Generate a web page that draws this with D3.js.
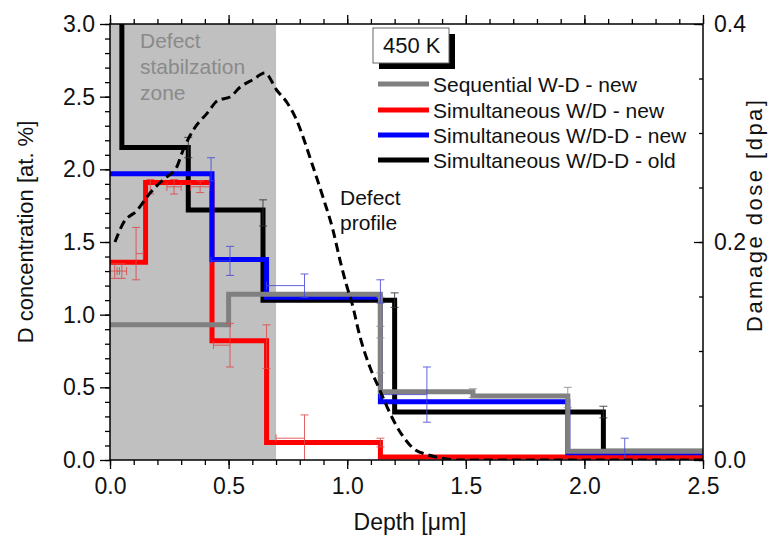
<!DOCTYPE html>
<html><head><meta charset="utf-8">
<script src="https://cdn.jsdelivr.net/npm/d3@7"></script>
<style>body{margin:0;background:#fff} svg text{font-family:"Liberation Sans",Arial,sans-serif}</style>
</head><body><svg id="c" width="770" height="538"></svg>
<script>
// ---- data ----
const seriesNames = ["Sequential W-D - new","Simultaneous W/D - new","Simultaneous W/D-D - new","Simultaneous W/D-D - old"];
const seriesColors = ["#808080","#ff0000","#0000ff","#000000"];
const errColors = ["#8c8c8c","#e04848","#4a4ad8","#303030"];
// step profiles: depth edges [µm] and D concentration [at.%] per layer
const grayEdges  = [0, 0.5, 1.14, 1.53, 1.93, 2.5];
const grayValues = [0.93, 1.14, 0.47, 0.44, 0.06];
const redEdges   = [0, 0.15, 0.43, 0.66, 1.14, 2.5];
const redValues  = [1.36, 1.91, 0.82, 0.12, 0.02];
const blueEdges  = [0, 0.43, 0.66, 1.14, 1.93, 2.5];
const blueValues = [1.97, 1.38, 1.12, 0.40, 0.05];
const blackEdges = [0, 0.05, 0.33, 0.645, 1.2, 2.08, 2.5];
const blackValues= [3.6, 2.15, 1.72, 1.10, 0.33, 0.06];
// error bars: [depth, conc, xErrLeft, xErrRight, yErr]
const grayErr  = [[1.14,1.02,0,0,0.10],[1.14,0.72,0,0,0.12],[1.53,0.46,0,0,0.03],[1.93,0.43,0,0,0.07]];
const redErr   = [[0.02,1.30,0.02,0.02,0.05],[0.05,1.30,0.02,0.02,0.05],[0.11,1.42,0,0.03,0.18],
                  [0.17,1.88,0,0,0.05],[0.27,1.88,0.03,0.03,0.05],[0.38,1.88,0.04,0.04,0.04],
                  [0.506,0.79,0.07,0,0.15],[0.66,0.78,0,0,0.15],[0.82,0.15,0.12,0,0.16],[1.14,0.12,0,0,0.03]];
const blueErr  = [[0.426,2.0,0,0,0.08],[0.506,1.37,0.08,0,0.10],[0.82,1.20,0.16,0,0.08],
                  [1.14,1.16,0,0,0.08],[1.336,0.45,0.2,0,0.19],[2.17,0.07,0,0,0.08]];
const blackErr = [[0.33,2.15,0,0,0.07],[0.645,1.70,0,0,0.09],[1.2,1.10,0,0,0.05],[2.08,0.33,0,0,0.04]];
// defect (damage) profile, right axis [dpa]
const defectDepth = [0.021,0.055,0.114,0.169,0.223,0.282,0.304,0.358,0.409,0.455,0.506,0.548,0.603,0.653,
  0.704,0.746,0.780,0.856,0.898,0.940,0.970,0.999,1.020,1.054,1.096,1.138,1.180,1.231,1.277,1.336,1.391,1.476,2.5];
const defectDpa = [0.200,0.217,0.229,0.245,0.257,0.269,0.282,0.305,0.318,0.330,0.333,0.342,0.349,0.355,
  0.339,0.328,0.315,0.269,0.241,0.211,0.183,0.159,0.144,0.113,0.085,0.064,0.043,0.023,0.011,0.005,0.002,0,0];
const zoneEnd = 0.7;
const depthTicks = [0,0.5,1.0,1.5,2.0,2.5];
const concTicks = [0,0.5,1.0,1.5,2.0,2.5,3.0];
const dpaTicks = [0,0.2,0.4];

// ---- layout ----
const L=110, R=703, T=24, B=460;
const svg = d3.select("#c");
const x = d3.scaleLinear().domain([0,2.5]).range([L,R]);
const y = d3.scaleLinear().domain([0,3]).range([B,T]);
const y2 = d3.scaleLinear().domain([0,0.4]).range([B,T]);

svg.append("defs").append("clipPath").attr("id","clip")
  .append("rect").attr("x",L).attr("y",T).attr("width",R-L).attr("height",B-T);

// shaded zone
svg.append("rect").attr("x",x(0)).attr("y",T).attr("width",x(zoneEnd)-x(0)).attr("height",B-T).attr("fill","#c0c0c0");

const zoneTxt = svg.append("text").attr("x",140).attr("y",48).attr("fill","#8a8a8a").attr("font-size",21);
["Defect","stabilzation","zone"].forEach((t,i)=>zoneTxt.append("tspan").attr("x",140).attr("dy",i?26:0).text(t));

// steps
const stepLine = d3.line().x(d=>x(d[0])).y(d=>y(d[1])).curve(d3.curveStepAfter);
function pts(edges, vals){ return edges.map((e,i)=>[e, vals[Math.min(i, vals.length-1)]]); }
const plot = svg.append("g").attr("clip-path","url(#clip)");
const steps = [[blackEdges,blackValues,3],[redEdges,redValues,1],[blueEdges,blueValues,2],[grayEdges,grayValues,0]];
steps.forEach(([e,v,ci])=>{
  plot.append("path").attr("d",stepLine(pts(e,v))).attr("fill","none")
    .attr("stroke",seriesColors[ci]).attr("stroke-width",5).attr("stroke-linejoin","miter");
});

// error bars
function drawErr(list, color){
  const g = plot.append("g").attr("stroke",color).attr("stroke-width",1).attr("opacity",0.85);
  list.forEach(([dx,dy,xl,xr,ey])=>{
    const cx=x(dx), cy=y(dy);
    g.append("line").attr("x1",cx).attr("x2",cx).attr("y1",y(dy-ey)).attr("y2",y(dy+ey));
    g.append("line").attr("x1",cx-4).attr("x2",cx+4).attr("y1",y(dy-ey)).attr("y2",y(dy-ey));
    g.append("line").attr("x1",cx-4).attr("x2",cx+4).attr("y1",y(dy+ey)).attr("y2",y(dy+ey));
    if(xl>0||xr>0){
      g.append("line").attr("x1",x(dx-xl)).attr("x2",x(dx+xr)).attr("y1",cy).attr("y2",cy);
      if(xl>0) g.append("line").attr("x1",x(dx-xl)).attr("x2",x(dx-xl)).attr("y1",cy-4).attr("y2",cy+4);
      if(xr>0) g.append("line").attr("x1",x(dx+xr)).attr("x2",x(dx+xr)).attr("y1",cy-4).attr("y2",cy+4);
    }
  });
}
drawErr(blackErr, errColors[3]);
drawErr(grayErr, errColors[0]);
drawErr(redErr, errColors[1]);
drawErr(blueErr, errColors[2]);

// defect profile
const dLine = d3.line().x((d,i)=>x(defectDepth[i])).y((d,i)=>y2(defectDpa[i])).curve(d3.curveMonotoneX);
plot.append("path").attr("d",dLine(defectDepth)).attr("fill","none").attr("stroke","#000")
  .attr("stroke-width",3).attr("stroke-dasharray","9,5");

const dTxt = svg.append("text").attr("x",340).attr("y",205).attr("fill","#111").attr("font-size",21);
["Defect","profile"].forEach((t,i)=>dTxt.append("tspan").attr("x",340).attr("dy",i?25:0).text(t));

// axes
const fmt = d3.format(".1f");
function styleAx(g, fs){ g.select(".domain").remove(); g.selectAll("line").attr("stroke","#000").attr("stroke-width",1.3);
  g.selectAll("text").attr("font-size",fs).attr("fill","#111").attr("font-family","Liberation Sans, Arial, sans-serif"); }
const minorDepth = d3.range(0,2.501,0.1), minorConc = d3.range(0,3.001,0.1), minorDpa = d3.range(0,0.401,0.05);
svg.append("g").attr("transform",`translate(0,${B})`).call(d3.axisBottom(x).tickValues(minorDepth).tickSize(5).tickFormat("")).call(g=>styleAx(g,23));
svg.append("g").attr("transform",`translate(0,${B})`).call(d3.axisBottom(x).tickValues(depthTicks).tickSize(9).tickPadding(9).tickFormat(fmt)).call(g=>styleAx(g,23));
svg.append("g").attr("transform",`translate(0,${T})`).call(d3.axisTop(x).tickValues(minorDepth).tickSize(5).tickFormat("")).call(g=>styleAx(g,23));
svg.append("g").attr("transform",`translate(0,${T})`).call(d3.axisTop(x).tickValues(depthTicks).tickSize(9).tickFormat("")).call(g=>styleAx(g,23));
svg.append("g").attr("transform",`translate(${L},0)`).call(d3.axisLeft(y).tickValues(minorConc).tickSize(5).tickFormat("")).call(g=>styleAx(g,23));
svg.append("g").attr("transform",`translate(${L},0)`).call(d3.axisLeft(y).tickValues(concTicks).tickSize(10).tickPadding(5).tickFormat(fmt)).call(g=>styleAx(g,23));
svg.append("g").attr("transform",`translate(${R},0)`).call(d3.axisRight(y2).tickValues(minorDpa).tickSize(-4).tickFormat("")).call(g=>styleAx(g,23));
svg.append("g").attr("transform",`translate(${R},0)`).call(d3.axisRight(y2).tickValues(dpaTicks).tickSize(-9).tickPadding(11).tickFormat(fmt)).call(g=>styleAx(g,23));
svg.append("rect").attr("x",L).attr("y",T).attr("width",R-L).attr("height",B-T).attr("fill","none").attr("stroke","#000").attr("stroke-width",1.5);

// axis titles
svg.append("text").attr("transform","translate(33,232) rotate(-90)").attr("text-anchor","middle").attr("font-size",22).attr("fill","#111").text("D concentration [at. %]");
svg.append("text").attr("transform","translate(762,216) rotate(-90)").attr("text-anchor","middle").attr("font-size",22)
  .attr("textLength",232).attr("lengthAdjust","spacing").attr("fill","#111").text("Damage dose [dpa]");
svg.append("text").attr("x",410).attr("y",530).attr("text-anchor","middle").attr("font-size",23).attr("fill","#111").text("Depth [\u03bcm]");

// legend
svg.append("rect").attr("x",379).attr("y",34).attr("width",76).attr("height",35).attr("fill","#000");
svg.append("rect").attr("x",373).attr("y",28).attr("width",76).attr("height",35).attr("fill","#fff").attr("stroke","#666").attr("stroke-width",1);
svg.append("text").attr("x",383).attr("y",53).attr("font-size",22).attr("fill","#111").text("450 K");
const legY = [84,110,135,160];
seriesNames.forEach((n,i)=>{
  svg.append("line").attr("x1",378).attr("x2",429).attr("y1",legY[i]).attr("y2",legY[i]).attr("stroke",seriesColors[i]).attr("stroke-width",5);
  svg.append("text").attr("x",433).attr("y",legY[i]+7.5).attr("font-size",21).attr("fill","#111").text(n);
});
</script></body></html>
